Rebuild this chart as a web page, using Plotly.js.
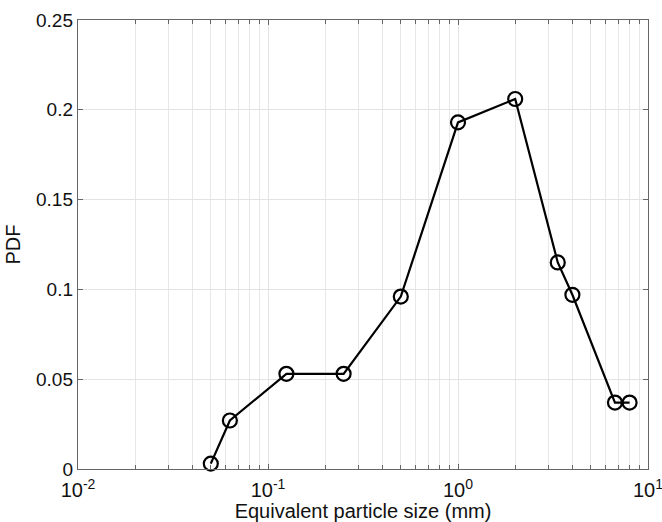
<!DOCTYPE html>
<html>
<head>
<meta charset="utf-8">
<script src="https://cdn.plot.ly/plotly-3.0.1.min.js"></script>
<style>html,body{margin:0;padding:0;background:#fff}#chart{width:662px;height:522px}</style>
</head>
<body>
<div id="chart"></div>
<script>
const particleSize = [0.05, 0.063, 0.125, 0.25, 0.5, 1, 2, 3.35, 4, 6.7, 8];
const pdfValues = [0.003, 0.027, 0.053, 0.053, 0.096, 0.193, 0.206, 0.115, 0.097, 0.037, 0.037];
const xTickVals = [0.01, 0.1, 1, 10];
const xTickText = ['10<sup>-2</sup>', '10<sup>-1</sup>', '10<sup>0</sup>', '10<sup>1</sup>'];
const yTickVals = [0, 0.05, 0.1, 0.15, 0.2, 0.25];
const yTickText = ['0', '0.05', '0.1', '0.15', '0.2', '0.25'];

const minorVals = [];
[0.01, 0.1, 1].forEach(d => { for (let k = 2; k <= 9; k++) minorVals.push(d * k); });

const trace = {
  x: particleSize, y: pdfValues, type: 'scatter', mode: 'lines+markers',
  line: {color: '#000', width: 2.2},
  marker: {symbol: 'circle-open', size: 14, color: '#000', line: {width: 2.2, color: '#000'}},
  cliponaxis: false
};
const axisCommon = {
  showline: true, linecolor: '#666', linewidth: 1.2, mirror: 'ticks',
  ticks: 'inside', ticklen: 5, tickcolor: '#666', tickwidth: 1,
  showgrid: true, gridcolor: '#e3e3e3', gridwidth: 1, zeroline: false,
  ticklabeloverflow: 'allow',
  tickfont: {family: 'Liberation Sans, Arial, sans-serif', size: 19, color: '#111'}
};
const layout = {
  width: 662, height: 522,
  margin: {l: 78, r: 14, t: 20, b: 53},
  paper_bgcolor: '#fff', plot_bgcolor: '#fff',
  showlegend: false,
  font: {family: 'Liberation Sans, Arial, sans-serif', color: '#111'},
  xaxis: Object.assign({}, axisCommon, {
    type: 'log', range: [-2, 1], tickmode: 'array', tickvals: xTickVals, ticktext: xTickText,
    tickfont: {family: 'Liberation Sans, Arial, sans-serif', size: 20, color: '#111'},
    ticklabelstandoff: 3,
    minor: {tickmode: 'array', tickvals: minorVals, ticks: 'inside', ticklen: 4, tickcolor: '#666', showgrid: true, gridcolor: '#e8e8e8', gridwidth: 1},
    title: {text: 'Equivalent particle size (mm)', font: {size: 20, color: '#111'}, standoff: 5}
  }),
  yaxis: Object.assign({}, axisCommon, {
    range: [0, 0.25], tickmode: 'array', tickvals: yTickVals, ticktext: yTickText,
    title: {text: 'PDF', font: {size: 20, color: '#111'}, standoff: 10}
  })
};
Plotly.newPlot('chart', [trace], layout, {displayModeBar: false, staticPlot: true});
</script>
</body>
</html>
